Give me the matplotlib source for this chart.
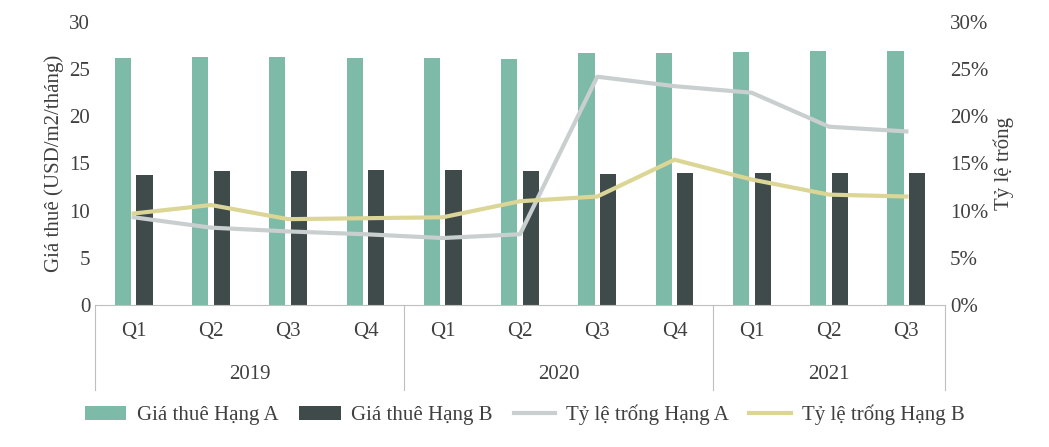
import matplotlib.pyplot as plt
import numpy as np
from matplotlib.lines import Line2D

plt.rcParams['font.family'] = ['Liberation Serif', 'DejaVu Serif']

quarters = ['Q1', 'Q2', 'Q3', 'Q4', 'Q1', 'Q2', 'Q3', 'Q4', 'Q1', 'Q2', 'Q3']
years = ['2019', '2020', '2021']
year_sizes = [4, 4, 3]
rent_a = [26.2, 26.3, 26.3, 26.2, 26.2, 26.1, 26.7, 26.7, 26.8, 26.9, 26.9]
rent_b = [13.8, 14.2, 14.2, 14.3, 14.3, 14.2, 13.9, 14.0, 14.0, 14.0, 14.0]
vac_a = [9.3, 8.2, 7.8, 7.5, 7.1, 7.5, 24.2, 23.2, 22.5, 18.9, 18.4]
vac_b = [9.7, 10.6, 9.1, 9.2, 9.3, 11.0, 11.5, 15.4, 13.3, 11.7, 11.5]

col_a = '#7dbaa8'
col_b = '#3f4b4a'
col_va = '#c9cfcf'
col_vb = '#dcd696'
txt = '#404040'

fig = plt.figure(figsize=(10.49, 4.47), dpi=100)
ax = fig.add_axes([95/1049, 1-305/447, 850/1049, 283/447])
x = np.arange(len(quarters))
ax.bar(x - 0.14, rent_a, width=0.21, color=col_a, label='Giá thuê Hạng A', zorder=2)
ax.bar(x + 0.14, rent_b, width=0.21, color=col_b, label='Giá thuê Hạng B', zorder=2)
ax.set_xlim(-0.5, len(quarters) - 0.5)
ax.set_ylim(0, 30)
ax.set_yticks(range(0, 31, 5))
ax.set_ylabel('Giá thuê (USD/m2/tháng)', fontsize=15, color=txt)

ax2 = ax.twinx()
ax2.plot(x, vac_a, color=col_va, lw=3, label='Tỷ lệ trống Hạng A')
ax2.plot(x, vac_b, color=col_vb, lw=3, label='Tỷ lệ trống Hạng B')
ax2.set_ylim(0, 30)
ax2.set_yticks(range(0, 31, 5))
ax2.set_yticklabels([f'{v}%' for v in range(0, 31, 5)])
ax2.set_ylabel('Tỷ lệ trống', fontsize=15, color=txt)

for a in (ax, ax2):
    for s in a.spines.values():
        s.set_visible(False)
    a.tick_params(length=0, labelsize=15, labelcolor=txt)
ax.spines['bottom'].set_visible(True)
ax.spines['bottom'].set_color('#bfbfbf')

ax.set_xticks(x)
ax.set_xticklabels(quarters)
ax.tick_params(axis='x', pad=12)

# year grouping below axis
trans = ax.get_xaxis_transform()
start = 0
bounds = [-0.5]
for yr, n in zip(years, year_sizes):
    ax.text(start + (n - 1) / 2, -0.245, yr, transform=trans, ha='center', va='center',
            fontsize=15, color=txt)
    start += n
    bounds.append(start - 0.5)
for b in bounds:
    ax.add_line(Line2D([b, b], [0, -0.3], transform=trans, color='#bfbfbf', lw=0.8, clip_on=False))

h1, l1 = ax.get_legend_handles_labels()
h2, l2 = ax2.get_legend_handles_labels()
fig.legend(h1 + h2, l1 + l2, loc='center', bbox_to_anchor=(0.5, 1 - 415/447), ncol=4,
           frameon=False, fontsize=15, handlelength=2.0, handletextpad=0.5,
           columnspacing=1.0, labelcolor=txt)

fig.savefig('out.png', dpi=100)
